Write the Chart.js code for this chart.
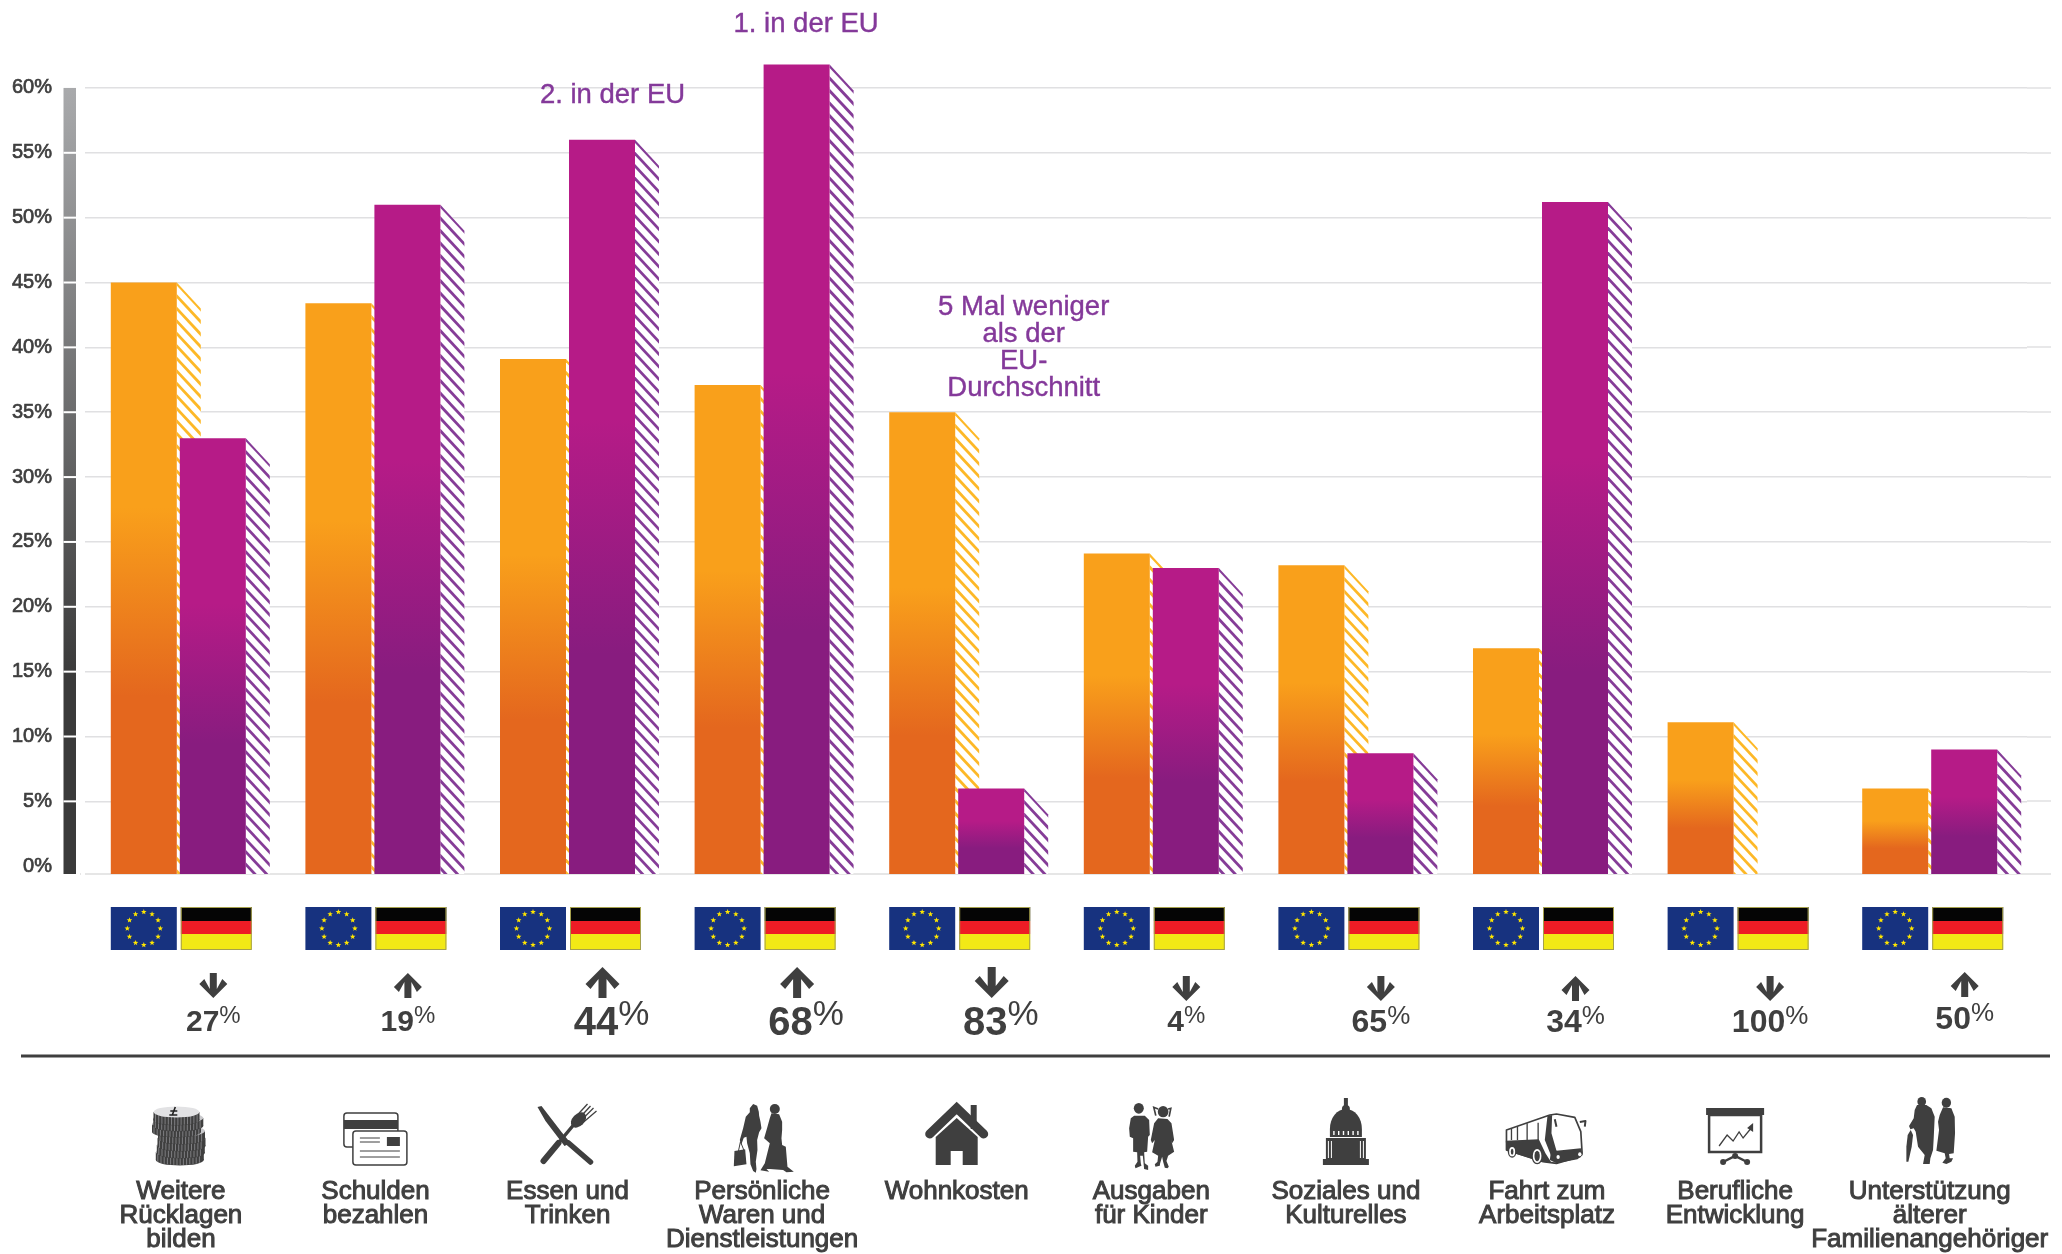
<!DOCTYPE html>
<html lang="de">
<head>
<meta charset="utf-8">
<title>Ausgaben EU und Deutschland</title>
<script src="https://cdn.jsdelivr.net/npm/chart.js@4/dist/chart.umd.min.js"></script>
<style>
  html, body { margin: 0; padding: 0; background: #fff; }
  canvas { display: block; }
</style>
</head>
<body>
<canvas id="chart" width="2062" height="1254"></canvas>
<script>
// values
const categories = [
    ['Weitere', 'Rücklagen', 'bilden'],
    ['Schulden', 'bezahlen'],
    ['Essen und', 'Trinken'],
    ['Persönliche', 'Waren und', 'Dienstleistungen'],
    ['Wohnkosten'],
    ['Ausgaben', 'für Kinder'],
    ['Soziales und', 'Kulturelles'],
    ['Fahrt zum', 'Arbeitsplatz'],
    ['Berufliche', 'Entwicklung'],
    ['Unterstützung', 'älterer', 'Familienangehöriger']
];
const euValues = [45, 43.4, 39.1, 37.1, 35, 24.1, 23.2, 16.8, 11.1, 6];
const deValues = [33, 51, 56, 61.8, 6, 23, 8.7, 51.2, null, 9];
const changeValues = [27, 19, 44, 68, 83, 4, 65, 34, 100, 50];
const changeDirections = ['down', 'up', 'up', 'up', 'down', 'down', 'down', 'up', 'down', 'up'];
const yTicks = [0, 5, 10, 15, 20, 25, 30, 35, 40, 45, 50, 55, 60];
const notes = [
    { category: 3, lines: ['1. in der EU'] },
    { category: 2, lines: ['2. in der EU'] },
    { category: 4, lines: ['5 Mal weniger', 'als der', 'EU-', 'Durchschnitt'] }
];

const DARK = '#3f3f3f';
const FONT = '"Liberation Sans", Arial, sans-serif';
const AXIS_MIN = -0.6;

// how the comparison row is set: 0 small, 1 medium, 2 big text
const changeSizes = [0, 0, 2, 2, 2, 0, 1, 1, 1, 1];
const arrowBottoms = [998, 998, 998, 998, 998, 1001, 1001, 1001, 1001, 997];
const changeBaselines = [1031, 1031, 1035, 1035, 1035, 1031, 1032, 1032, 1032, 1029];
// a few category labels do not sit exactly under their group
const labelNudges = [2.6, 2.6, 0, 0, 0, 0, 0, 6.5, 0, 0];

function barGradient(context, top, bottom) {
    const parsed = context.parsed;
    if (!parsed || parsed.y === null) return top;
    const y = context.chart.scales.y;
    const y0 = y.getPixelForValue(parsed.y), y1 = y.getPixelForValue(AXIS_MIN);
    // the scale has no size yet on the first pass
    if (!isFinite(y0) || !isFinite(y1)) return top;
    const g = context.chart.ctx.createLinearGradient(0, y0, 0, y1);
    g.addColorStop(0, top);
    g.addColorStop(0.38, top);
    g.addColorStop(0.7, bottom);
    g.addColorStop(1, bottom);
    return g;
}

// striped side of every bar
function drawHatch(ctx, el, area, color) {
    const x0 = el.x + el.width / 2;
    const top = el.y, bottom = area.bottom;
    const w = 24, drop = 26;
    ctx.save();
    ctx.beginPath();
    ctx.moveTo(x0, top);
    ctx.lineTo(x0 + w, Math.min(top + drop, bottom));
    ctx.lineTo(x0 + w, bottom);
    ctx.lineTo(x0, bottom);
    ctx.closePath();
    ctx.clip();
    ctx.fillStyle = '#fff';
    ctx.fillRect(x0, top, w, bottom - top);
    ctx.strokeStyle = color;
    ctx.lineWidth = 2.8;
    for (let y = top - 24; y < bottom + 12; y += 12.5) {
        ctx.beginPath();
        ctx.moveTo(x0 - 2, y - 2);
        ctx.lineTo(x0 + w + 2, y + drop + 2);
        ctx.stroke();
    }
    ctx.restore();
}

function star(ctx, x, y, r) {
    ctx.beginPath();
    for (let i = 0; i < 10; i++) {
        const a = -Math.PI / 2 + i * Math.PI / 5;
        const rr = i % 2 ? r * 0.42 : r;
        ctx.lineTo(x + Math.cos(a) * rr, y + Math.sin(a) * rr);
    }
    ctx.closePath();
    ctx.fill();
}

function drawFlags(ctx, cx) {
    const y = 907;
    ctx.fillStyle = '#17327f';
    ctx.fillRect(cx - 67.5, y, 66, 43);
    ctx.fillStyle = '#ffe600';
    for (let i = 0; i < 12; i++) {
        const a = i * Math.PI / 6;
        star(ctx, cx - 34.5 + Math.cos(a) * 16.5, y + 21.5 + Math.sin(a) * 16.5, 2.9);
    }
    const dx = cx + 2.5;
    ctx.fillStyle = '#050505';
    ctx.fillRect(dx, y, 71, 14);
    ctx.fillStyle = '#ee1c25';
    ctx.fillRect(dx, y + 14, 71, 13);
    ctx.fillStyle = '#f2e916';
    ctx.fillRect(dx, y + 27, 71, 15.5);
    ctx.strokeStyle = '#a5a04c';
    ctx.lineWidth = 1;
    ctx.strokeRect(dx + 0.5, y + 0.5, 70, 42);
}

function drawArrow(ctx, x, dir, big, bottom) {
    const h = big ? 31 : 25, head = big ? 17 : 14, shaft = big ? 4 : 3.5, drop = big ? 17 : 14;
    const top = bottom - h;
    ctx.save();
    ctx.translate(x, top);
    if (dir === 'down') {
        ctx.translate(0, h);
        ctx.scale(1, -1);
    }
    ctx.fillStyle = DARK;
    ctx.beginPath();
    ctx.moveTo(0, 0);
    ctx.lineTo(head, drop);
    ctx.lineTo(head - 5, drop + 5);
    ctx.lineTo(shaft, drop - 5);
    ctx.lineTo(shaft, h);
    ctx.lineTo(-shaft, h);
    ctx.lineTo(-shaft, drop - 5);
    ctx.lineTo(-head + 5, drop + 5);
    ctx.lineTo(-head, drop);
    ctx.closePath();
    ctx.fill();
    ctx.restore();
}

function drawChange(ctx, x, value, size, base) {
    const numFont = '700 ' + [30, 32, 40][size] + 'px ' + FONT;
    const pctFont = '400 ' + [24, 26, 35][size] + 'px ' + FONT;
    const num = String(value);
    ctx.font = numFont;
    const numW = ctx.measureText(num).width;
    ctx.font = pctFont;
    const pctW = ctx.measureText('%').width;
    const left = x - (numW + pctW) / 2 + (size === 2 ? 9 : 0);
    ctx.fillStyle = DARK;
    ctx.textAlign = 'left';
    ctx.textBaseline = 'alphabetic';
    ctx.font = numFont;
    ctx.fillText(num, left, base);
    ctx.font = pctFont;
    ctx.fillText('%', left + numW, base - [8, 8, 10][size]);
}

// ---- pictograms, (0,0) = middle of the bottom edge of the icon row ----
function poly(ctx, pts) {
    ctx.beginPath();
    pts.forEach((p, i) => i ? ctx.lineTo(p[0], p[1]) : ctx.moveTo(p[0], p[1]));
    ctx.closePath();
    ctx.fill();
}

function blob(ctx, x, y, rx, ry) {
    ctx.beginPath();
    ctx.ellipse(x, y, rx, ry, 0, 0, Math.PI * 2);
    ctx.fill();
}

function coin(ctx, cx, y, rx, last) {
    ctx.fillStyle = DARK;
    blob(ctx, cx, y + 8, rx, 5.5);
    ctx.fillRect(cx - rx, y, rx * 2, 8);
    ctx.strokeStyle = '#8f8f93';
    ctx.lineWidth = 0.8;
    for (let k = -rx + 2; k <= rx - 2; k += 3.2) {
        const drop = 5 * Math.sqrt(1 - (k / rx) * (k / rx));
        ctx.beginPath();
        ctx.moveTo(cx + k, y + drop);
        ctx.lineTo(cx + k, y + 8 + drop);
        ctx.stroke();
    }
    ctx.fillStyle = last ? '#e2e2e4' : '#c9c9cc';
    blob(ctx, cx, y, rx, 5.5);
}

const icons = [
    function coins(ctx) {
        coin(ctx, 1.5, -13, 24);
        coin(ctx, 2.5, -20, 24);
        coin(ctx, 3.2, -27, 24);
        coin(ctx, 3.2, -34, 23.5);
        coin(ctx, -1.8, -41, 24.5);
        coin(ctx, 0, -47, 25);
        coin(ctx, -1.8, -53, 23, true);
        ctx.strokeStyle = '#222';
        ctx.lineWidth = 1.6;
        ctx.beginPath();
        ctx.moveTo(-3, -58);
        ctx.lineTo(-6, -50);
        ctx.moveTo(-9, -50);
        ctx.lineTo(-1, -50);
        ctx.moveTo(-8, -54);
        ctx.lineTo(-1, -54);
        ctx.stroke();
    },
    function cards(ctx) {
        ctx.strokeStyle = DARK;
        ctx.lineWidth = 1.5;
        ctx.fillStyle = '#fff';
        ctx.beginPath();
        ctx.roundRect(-29, -52, 54, 34, 3);
        ctx.fill();
        ctx.stroke();
        ctx.fillStyle = DARK;
        ctx.fillRect(-29, -45, 54, 9);
        ctx.fillStyle = '#fff';
        ctx.beginPath();
        ctx.roundRect(-20, -34, 54, 34, 3);
        ctx.fill();
        ctx.stroke();
        ctx.fillStyle = DARK;
        ctx.fillRect(14, -28, 13, 9);
        ctx.lineWidth = 1;
        [[-13, 7, -27], [-13, 7, -23], [-13, 27, -14], [-13, 27, -8]].forEach(l => {
            ctx.beginPath();
            ctx.moveTo(l[0], l[2]);
            ctx.lineTo(l[1], l[2]);
            ctx.stroke();
        });
    },
    function cutlery(ctx) {
        ctx.fillStyle = DARK;
        ctx.strokeStyle = DARK;
        ctx.lineCap = 'round';
        // knife
        poly(ctx, [[-30, -58], [-26, -59], [-6, -33], [3, -22], [-3, -19], [-22, -44]]);
        ctx.lineWidth = 5.5;
        ctx.beginPath();
        ctx.moveTo(1, -22);
        ctx.lineTo(23, -3);
        ctx.stroke();
        // fork
        ctx.lineWidth = 6;
        ctx.beginPath();
        ctx.moveTo(-24, -4);
        ctx.lineTo(-9, -22);
        ctx.stroke();
        ctx.lineWidth = 3.5;
        ctx.beginPath();
        ctx.moveTo(-9, -22);
        ctx.lineTo(6, -40);
        ctx.stroke();
        ctx.beginPath();
        ctx.ellipse(11, -45, 6, 9, Math.PI / 4, 0, Math.PI * 2);
        ctx.fill();
        ctx.lineWidth = 1.3;
        ctx.lineCap = 'butt';
        [[8, -48, 20, -61], [11, -46, 23, -59], [13, -44, 26, -57], [15, -42, 29, -54]].forEach(l => {
            ctx.beginPath();
            ctx.moveTo(l[0], l[1]);
            ctx.lineTo(l[2], l[3]);
            ctx.stroke();
        });
    },
    function shoppers(ctx) {
        ctx.translate(-42.3, -70);
        ctx.scale(1 / 3, 1 / 3);
        ctx.fillStyle = DARK;
        ctx.strokeStyle = DARK;
        poly(ctx, [[100, 27], [112, 32], [117, 50], [118, 62], [122, 80], [125, 100], [118, 112], [112, 135], [113, 165], [108, 200], [110, 222], [108, 233], [100, 228], [92, 208], [90, 175], [82, 145], [80, 125], [72, 128], [64, 150], [60, 135], [70, 100], [78, 65], [90, 52], [90, 40]]);
        poly(ctx, [[44, 168], [76, 163], [80, 208], [42, 214]]);
        ctx.lineWidth = 3;
        ctx.beginPath();
        ctx.moveTo(56, 168);
        ctx.lineTo(62, 140);
        ctx.lineTo(72, 165);
        ctx.stroke();
        blob(ctx, 165, 42, 15, 15);
        poly(ctx, [[155, 55], [178, 58], [187, 80], [187, 105], [185, 130], [187, 150], [198, 155], [203, 215], [222, 230], [200, 232], [190, 225], [150, 222], [140, 222], [148, 230], [135, 228], [122, 226], [135, 205], [150, 145], [133, 130], [143, 95], [150, 70]]);
    },
    function house(ctx) {
        ctx.strokeStyle = DARK;
        ctx.lineWidth = 9;
        ctx.lineCap = 'round';
        ctx.lineJoin = 'miter';
        ctx.beginPath();
        ctx.moveTo(-27, -31);
        ctx.lineTo(0, -57);
        ctx.lineTo(27, -31);
        ctx.stroke();
        ctx.fillStyle = DARK;
        ctx.fillRect(14, -60, 6, 24);
        poly(ctx, [[0, -47], [21, -28], [21, 0], [-21, 0], [-21, -28]]);
        ctx.fillStyle = '#fff';
        ctx.fillRect(-6, -14, 12, 14);
    },
    function children(ctx) {
        ctx.translate(-36.5, -70);
        ctx.scale(1 / 3, 1 / 3);
        ctx.fillStyle = DARK;
        ctx.strokeStyle = DARK;
        blob(ctx, 72, 40, 15, 16);
        poly(ctx, [[58, 62], [90, 62], [103, 75], [105, 120], [100, 125], [97, 170], [88, 172], [90, 205], [100, 212], [100, 225], [88, 222], [84, 182], [76, 182], [78, 205], [80, 212], [62, 220], [60, 212], [68, 200], [67, 172], [55, 170], [55, 130], [45, 125], [43, 100], [48, 70]]);
        blob(ctx, 145, 50, 16, 17);
        poly(ctx, [[130, 70], [158, 72], [170, 85], [178, 135], [172, 145], [168, 130], [178, 170], [160, 182], [155, 198], [162, 215], [158, 220], [150, 218], [145, 200], [142, 185], [136, 205], [135, 212], [122, 215], [120, 208], [128, 200], [130, 182], [112, 172], [120, 135], [112, 145], [108, 135], [118, 85]]);
        ctx.lineWidth = 5;
        ctx.beginPath();
        ctx.moveTo(130, 42);
        ctx.lineTo(117, 37);
        ctx.lineTo(123, 62);
        ctx.moveTo(160, 42);
        ctx.lineTo(168, 40);
        ctx.lineTo(163, 65);
        ctx.stroke();
    },
    function capitol(ctx) {
        ctx.fillStyle = DARK;
        ctx.fillRect(-23, -6, 46, 6);
        ctx.fillRect(-20, -27, 40, 22);
        ctx.fillRect(-2, -67, 4, 14);
        ctx.beginPath();
        ctx.arc(0, -56, 4, 0, Math.PI * 2);
        ctx.fill();
        ctx.beginPath();
        ctx.ellipse(0, -36, 16, 20, 0, Math.PI, 0);
        ctx.fill();
        ctx.fillRect(-16, -36, 32, 8);
        ctx.fillStyle = '#fff';
        for (let k = -12; k <= 12; k += 4.8) ctx.fillRect(k - 0.7, -34, 1.4, 4);
        for (let k of [-18, -15, 14, 17]) ctx.fillRect(k, -24, 1, 17);
    },
    function bus(ctx) {
        ctx.translate(-45.7, -65);
        ctx.scale(1 / 3, 1 / 3);
        ctx.strokeStyle = DARK;
        ctx.lineJoin = 'round';
        ctx.lineWidth = 5;
        ctx.fillStyle = '#fff';
        poly(ctx, [[35, 90], [165, 45], [185, 42], [240, 52], [258, 95], [262, 160], [255, 170], [185, 190], [145, 185], [35, 150]]);
        ctx.stroke();
        ctx.fillStyle = DARK;
        poly(ctx, [[33, 122], [132, 118], [152, 160], [170, 188], [140, 185], [35, 152]]);
        poly(ctx, [[172, 130], [185, 152], [258, 145], [264, 165], [248, 178], [185, 190], [165, 180]]);
        poly(ctx, [[158, 48], [172, 45], [170, 100], [185, 152], [172, 175], [150, 120]]);
        ctx.lineWidth = 4;
        for (const x of [50, 68, 97, 130]) {
            ctx.beginPath();
            ctx.moveTo(x, x < 100 ? 85 - (x - 50) * 0.33 : 68);
            ctx.lineTo(x, 120);
            ctx.stroke();
        }
        // mirrors
        ctx.lineWidth = 6;
        ctx.beginPath();
        ctx.moveTo(180, 58);
        ctx.lineTo(185, 80);
        ctx.moveTo(255, 66);
        ctx.lineTo(272, 63);
        ctx.lineTo(270, 80);
        ctx.stroke();
        // head lamps and wheels
        ctx.fillStyle = '#fff';
        blob(ctx, 190, 171, 5, 6);
        blob(ctx, 255, 163, 5, 6);
        for (const w of [[52, 155, 10, 15], [127, 168, 14, 22]]) {
            ctx.fillStyle = DARK;
            blob(ctx, w[0], w[1], w[2] + 3, w[3] + 3);
            ctx.fillStyle = '#fff';
            blob(ctx, w[0], w[1], w[2] - 1, w[3] - 1);
            ctx.fillStyle = DARK;
            blob(ctx, w[0], w[1], w[2] - 6, w[3] - 6);
        }
    },
    function board(ctx) {
        ctx.fillStyle = DARK;
        ctx.strokeStyle = DARK;
        ctx.fillRect(-29, -57, 58, 7);
        ctx.lineWidth = 2.5;
        ctx.strokeRect(-26, -50, 52, 37);
        ctx.lineWidth = 1.3;
        ctx.beginPath();
        ctx.moveTo(-16, -19);
        ctx.lineTo(-8, -30);
        ctx.lineTo(-2, -24);
        ctx.lineTo(4, -33);
        ctx.lineTo(8, -27);
        ctx.lineTo(17, -38);
        ctx.stroke();
        poly(ctx, [[18, -42], [18, -33], [12, -37]]);
        ctx.lineWidth = 2.5;
        ctx.beginPath();
        ctx.moveTo(-12, -3);
        ctx.lineTo(0, -9);
        ctx.lineTo(12, -3);
        ctx.stroke();
        for (const p of [[-12, -3], [0, -9], [12, -3]]) {
            ctx.beginPath();
            ctx.arc(p[0], p[1], 3, 0, Math.PI * 2);
            ctx.fill();
        }
    },
    function elders(ctx) {
        ctx.translate(-40, -75);
        ctx.scale(1 / 3, 1 / 3);
        ctx.fillStyle = DARK;
        blob(ctx, 96, 35, 13, 14);
        poly(ctx, [[82, 45], [110, 45], [125, 55], [135, 80], [132, 145], [130, 180], [122, 205], [120, 222], [100, 222], [105, 195], [85, 170], [78, 125], [72, 115], [62, 118], [58, 108], [72, 85], [75, 60]]);
        poly(ctx, [[63, 120], [70, 135], [66, 170], [56, 215], [50, 215], [50, 170], [54, 135]]);
        blob(ctx, 170, 38, 14, 15);
        poly(ctx, [[160, 52], [185, 55], [195, 80], [196, 130], [192, 190], [178, 192], [180, 205], [190, 205], [185, 215], [170, 222], [158, 218], [168, 205], [165, 190], [140, 182], [148, 120], [145, 95], [150, 75]]);
    }
];

const overlay = {
    id: 'overlay',
    afterUpdate(chart) {
        const items = chart.scales.x.getLabelItems(chart.chartArea);
        items.forEach((item, i) => { item.options.translation[0] += labelNudges[i]; });
    },
    beforeDatasetsDraw(chart) {
        const { ctx, chartArea: area, scales } = chart;
        const y = scales.y;
        // grid runs a little past the last category, and starts right of the axis bar
        ctx.save();
        ctx.strokeStyle = '#e0e0e2';
        ctx.lineWidth = 1.5;
        yTicks.slice(1).forEach(v => {
            const py = Math.round(y.getPixelForValue(v));
            ctx.beginPath();
            ctx.moveTo(area.right, py);
            ctx.lineTo(2051, py);
            ctx.stroke();
        });
        ctx.strokeStyle = '#e6e6e6';
        ctx.lineWidth = 2;
        ctx.beginPath();
        ctx.moveTo(area.right, area.bottom);
        ctx.lineTo(2051, area.bottom);
        ctx.stroke();
        ctx.fillStyle = '#fff';
        ctx.fillRect(area.left, area.top, 85 - area.left, area.bottom - area.top + 3);
        ctx.restore();

        const hatchColors = ['#fdb827', '#853c97'];
        chart.data.datasets.forEach((d, i) => {
            chart.getDatasetMeta(i).data.forEach((el, k) => {
                if (d.data[k] !== null) drawHatch(ctx, el, area, hatchColors[i]);
            });
        });
    },
    afterDatasetsDraw(chart) {
        const { ctx, chartArea: area, scales } = chart;
        const x = scales.x, y = scales.y;
        ctx.save();

        // gradient bar beside the y labels, split at each tick
        const top = y.getPixelForValue(60);
        const g = ctx.createLinearGradient(0, top, 0, area.bottom);
        g.addColorStop(0, '#a9aaac');
        g.addColorStop(0.75, '#3a3a3a');
        g.addColorStop(1, '#3a3a3a');
        ctx.fillStyle = g;
        ctx.fillRect(63.5, top, 12.5, area.bottom - top);
        ctx.fillStyle = '#fff';
        yTicks.forEach(v => {
            if (v > 0 && v < 60) ctx.fillRect(63.5, y.getPixelForValue(v) - 1, 12.5, 2);
        });

        // purple remarks above the bars
        const noteSpots = [[44, 64.9], [45, 59.4], [67, 36.85]];
        ctx.fillStyle = '#84399a';
        ctx.strokeStyle = '#84399a';
        ctx.lineWidth = 0.4;
        ctx.font = '400 27.5px ' + FONT;
        ctx.textAlign = 'center';
        ctx.textBaseline = 'middle';
        notes.forEach((n, i) => {
            const cx = x.getPixelForValue(n.category) + noteSpots[i][0];
            const last = y.getPixelForValue(noteSpots[i][1]);
            n.lines.forEach((line, k) => {
                const ly = last - (n.lines.length - 1 - k) * 27;
                ctx.fillText(line, cx, ly);
                ctx.strokeText(line, cx, ly);
            });
        });

        categories.forEach((c, i) => {
            const cx = x.getPixelForValue(i);
            drawFlags(ctx, cx);
            drawArrow(ctx, cx + 35, changeDirections[i], changeSizes[i] === 2, arrowBottoms[i]);
            drawChange(ctx, cx + 35, changeValues[i], changeSizes[i], changeBaselines[i]);
            ctx.save();
            ctx.translate(cx, 1165);
            icons[i](ctx);
            ctx.restore();
        });

        // rule between the comparison and the categories
        ctx.fillStyle = DARK;
        ctx.fillRect(21, 1054.5, 2029, 3);
        ctx.restore();
    }
};

new Chart(document.getElementById('chart').getContext('2d'), {
    type: 'bar',
    data: {
        labels: categories,
        datasets: [
            {
                label: 'EU',
                data: euValues,
                base: AXIS_MIN,
                backgroundColor: c => barGradient(c, '#f9a01b', '#e4671e'),
                categoryPercentage: 138 / 194.6,
                barPercentage: 66 / 69
            },
            {
                label: 'Deutschland',
                data: deValues,
                base: AXIS_MIN,
                backgroundColor: c => barGradient(c, '#b61b87', '#881c7f'),
                categoryPercentage: 138 / 194.6,
                barPercentage: 66 / 69
            }
        ]
    },
    plugins: [overlay],
    options: {
        responsive: false,
        animation: false,
        devicePixelRatio: 1,
        layout: { padding: { top: 62, right: 35, bottom: 0, left: 0 } },
        plugins: { legend: { display: false }, tooltip: { enabled: false } },
        scales: {
            x: {
                afterFit(scale) {
                    scale.height = 380;
                    scale.paddingLeft = 0;
                    scale.paddingRight = 0;
                },
                // invisible tick marks push the labels down below the icons
                grid: { drawOnChartArea: false, drawTicks: true, tickLength: 306, tickColor: 'rgba(0,0,0,0)' },
                border: { display: true, color: '#e6e6e6', width: 2 },
                ticks: {
                    autoSkip: false,
                    maxRotation: 0,
                    padding: 0,
                    color: DARK,
                    font: { family: FONT, size: 26, lineHeight: 0.923 },
                    textStrokeColor: DARK,
                    textStrokeWidth: 1
                }
            },
            y: {
                min: AXIS_MIN,
                max: 62,
                afterFit(scale) {
                    scale.width = 81;
                    scale.paddingTop = 0;
                    scale.paddingBottom = 0;
                },
                afterBuildTicks(scale) { scale.ticks = yTicks.map(v => ({ value: v })); },
                border: { display: false },
                grid: {
                    drawTicks: false,
                    lineWidth: 1.5,
                    color: c => (c.tick && c.tick.value === 0 ? 'rgba(0,0,0,0)' : '#e0e0e2')
                },
                ticks: {
                    padding: 29,
                    color: DARK,
                    font: { family: FONT, size: 20 },
                    textStrokeColor: DARK,
                    textStrokeWidth: 0.7,
                    callback: v => v + '%'
                }
            }
        }
    }
});
</script>
</body>
</html>
